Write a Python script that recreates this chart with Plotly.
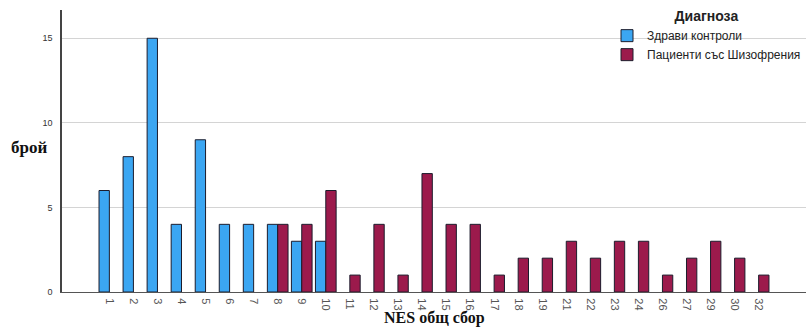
import plotly.graph_objects as go

# NES total score categories (as shown on the x axis)
scores = ["1", "2", "3", "4", "5", "6", "7", "8", "9", "10",
          "11", "12", "13", "14", "15", "16", "17", "18", "19",
          "21", "22", "23", "24", "26", "27", "29", "30", "32"]

# Counts per score for each diagnostic group (None = no cases)
controls = [6, 8, 15, 4, 9, 4, 4, 4, 3, 3,
            None, None, None, None, None, None, None, None, None,
            None, None, None, None, None, None, None, None, None]
patients = [None, None, None, None, None, None, None, 4, 4, 6,
            1, 4, 1, 7, 4, 4, 1, 2, 2,
            3, 2, 3, 3, 1, 2, 3, 2, 1]

group_names = ["Здрави контроли", "Пациенти със Шизофрения"]
y_ticks = [0, 5, 10, 15]

BLUE = "#3ba6f2"
MAROON = "#9c1a4c"
EDGE = "#1c1c2c"

fig = go.Figure()
fig.add_trace(go.Bar(x=scores, y=controls, name=group_names[0],
                     marker=dict(color=BLUE, line=dict(color=EDGE, width=1))))
fig.add_trace(go.Bar(x=scores, y=patients, name=group_names[1],
                     marker=dict(color=MAROON, line=dict(color=EDGE, width=1))))

n = len(scores)
fig.update_layout(
    width=806, height=329,
    margin=dict(l=62, r=0, t=10, b=37),
    paper_bgcolor="white", plot_bgcolor="white",
    barmode="group", bargap=0.14, bargroupgap=0,
    font=dict(family="Arial, Liberation Sans, sans-serif", color="#333"),
    legend=dict(
        title=dict(text="<b>Диагноза</b>", side="top center",
                   font=dict(size=14, color="#222")),
        x=1.0, xanchor="right", y=1.025, yanchor="top",
        bgcolor="rgba(0,0,0,0)", font=dict(size=12, color="#222"),
        itemwidth=30, tracegroupgap=0,
    ),
    xaxis=dict(
        type="category", categoryorder="array", categoryarray=scores,
        range=[-1.97, n - 1 + 1.97],
        tickangle=90, tickfont=dict(size=11, color="#555"),
        showline=True, linecolor="#555", linewidth=1.2,
        showgrid=False, ticks="outside", ticklen=3, tickcolor="rgba(0,0,0,0)",
    ),
    yaxis=dict(
        range=[0, 16.67], tickvals=y_ticks,
        tickfont=dict(size=9, color="#333"),
        showline=True, linecolor="#444", linewidth=1.5,
        showgrid=True, gridcolor="#d4d4d4", gridwidth=1,
        zeroline=False,
        ticks="outside", ticklen=6, tickcolor="rgba(0,0,0,0)",
    ),
    annotations=[
        dict(text="<b>брой</b>", xref="paper", yref="paper",
             x=-0.044, y=0.514, xanchor="center", yanchor="middle",
             showarrow=False,
             font=dict(family="Liberation Serif, Times New Roman, serif",
                       size=17, color="#111")),
        dict(text="<b>NES общ сбор</b>", xref="paper", yref="paper",
             x=0.5, y=-0.093, xanchor="center", yanchor="middle",
             showarrow=False,
             font=dict(family="Liberation Serif, Times New Roman, serif",
                       size=16, color="#111")),
    ],
)

fig.write_html("out.html")
